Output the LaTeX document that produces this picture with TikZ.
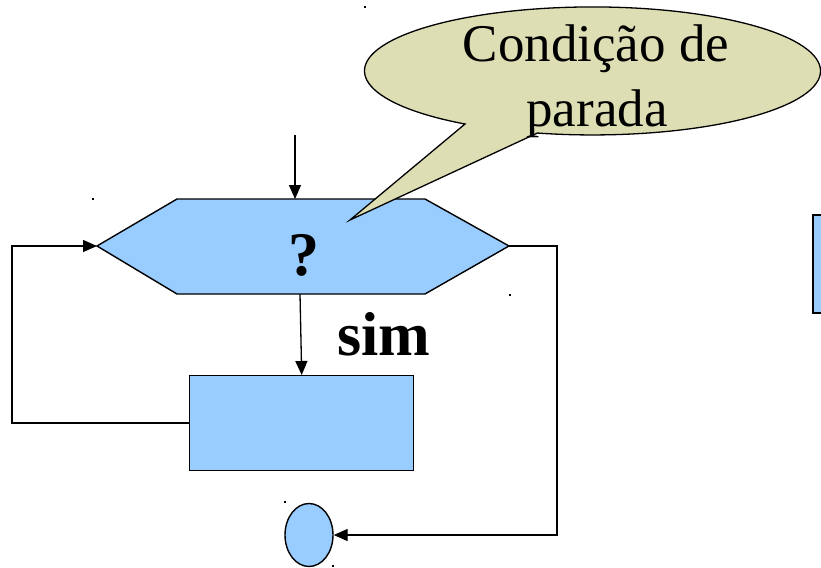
\documentclass[tikz,border=0pt]{standalone}
\usepackage{fontspec}
\setmainfont{Liberation Serif}
\usetikzlibrary{arrows.meta,shapes.geometric}
\definecolor{boxblue}{RGB}{153,204,255}
\definecolor{callout}{RGB}{222,222,180}
\tikzset{
  shapeline/.style={draw=black,line width=1.4pt,fill=boxblue},
  conn/.style={draw=black,line width=1.3pt},
  arr/.style={conn,-{Triangle[length=14pt,width=12pt]}},
  speck/.style={fill=black,inner sep=0pt,minimum width=2pt,minimum height=1.5pt},
}
\begin{document}
\begin{tikzpicture}[x=1pt,y=-1pt]
\useasboundingbox (0,0) rectangle (821,567);
\clip (0,0) rectangle (821,567);
% hexagon
\path[shapeline] (97,246) coordinate (hl) -- (177,199) -- (425,199) -- (509,246) coordinate (hr)
  -- (425,294) -- (177,294) -- cycle;
\coordinate (ht) at (295,199);
\coordinate (hb) at (300,294);
\node[anchor=base,font=\fontsize{62}{62}\selectfont\bfseries,inner sep=0pt] (q) at (304,275) {?};
\node[anchor=base,font=\fontsize{62}{62}\selectfont\bfseries,inner sep=0pt] (sim) at (384,355) {sim};
% callout
\draw[line width=1.3pt,fill=callout] (350,220) -- (465,124)
  arc[start angle=124,end angle=464,x radius=228,y radius=64] -- cycle;
\node[anchor=base,font=\fontsize{53}{60}\selectfont,inner sep=0pt] (c1) at (596,62) {Condição de};
\node[anchor=base,font=\fontsize{53}{60}\selectfont,inner sep=0pt] (c2) at (597,126) {parada};
% process box
\node[shapeline,minimum width=224pt,minimum height=95pt,inner sep=0pt,anchor=north west] (box) at (189,375) {};
% end circle
\node[shapeline,ellipse,minimum width=48pt,minimum height=63pt,inner sep=0pt] (end) at (309,535) {};
% partial box at right edge
\path[shapeline] (813,215) rectangle (840,313);
% connectors
\coordinate (in) at (295,135);
\draw[arr] (in) -- (ht);
\draw[arr] (hb) -- (box.north);
\coordinate (l1) at (12,423);
\coordinate (l2) at (12,246);
\draw[arr] (box.west |- 0,423) -- (l1) -- (l2) -- (hl);
\coordinate (r1) at (557,246);
\coordinate (r2) at (557,535);
\draw[arr] (hr) -- (r1) -- (r2) -- (end.east);
% small specks
\node[speck] (s1) at (365,7) {};
\node[speck] (s2) at (93,199) {};
\node[speck] (s3) at (510,295) {};
\node[speck] (s4) at (285,502) {};
\node[speck] (s5) at (333,566) {};
\end{tikzpicture}
\end{document}
